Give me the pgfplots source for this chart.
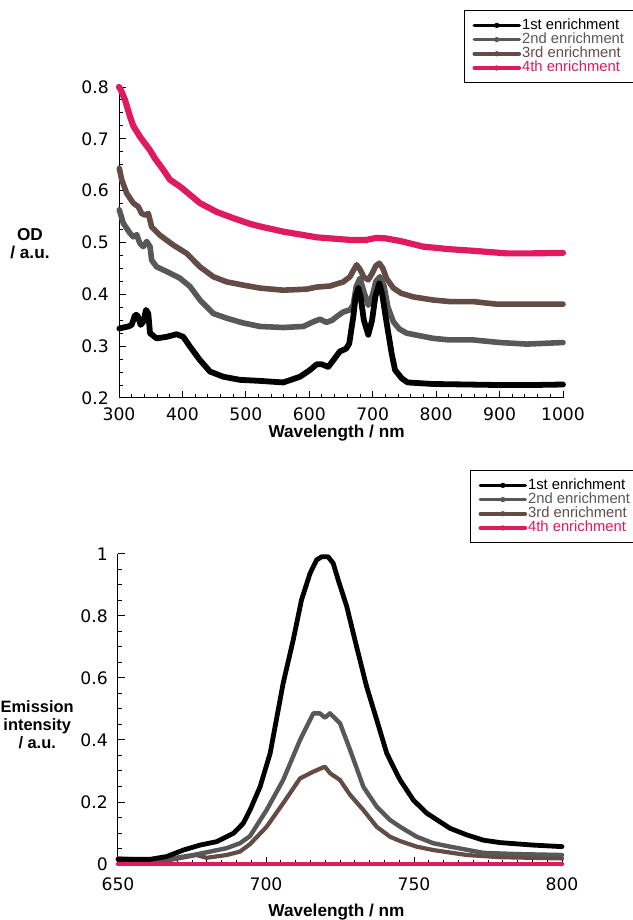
\documentclass[border=0pt]{standalone}
\usepackage{pgfplots}
\pgfplotsset{compat=1.18}
\usepackage{fontspec}
\setmainfont{Liberation Sans}
\newfontfamily\tickfont{DejaVu Sans}
\definecolor{cA}{RGB}{0,0,0}
\definecolor{cB}{RGB}{88,88,88}
\definecolor{cC}{RGB}{100,76,70}
\definecolor{cD}{RGB}{224,26,94}
\tikzset{lblfont/.style={font=\bfseries\fontsize{8.6}{9}\selectfont, align=center}}
\pgfplotsset{
  common/.style={
    scale only axis,
    axis x line*=bottom, axis y line*=left,
    axis line style={line width=0.5pt, black},
    tick align=inside,
    major tick length=3.5pt, minor tick length=2pt,
    every tick/.style={line width=0.5pt, black},
    tick label style={font=\tickfont\fontsize{8.6}{10}\selectfont},
    /pgf/number format/assume math mode=true,
    /pgf/number format/set thousands separator={},
    clip=false,
    every axis plot/.append style={line join=round, line cap=round},
    legend cell align=left,
    legend style={draw=black, line width=0.5pt, font=\fontsize{7.4}{8}\selectfont,
      inner xsep=4pt, inner ysep=3.9pt, row sep=0pt,
      nodes={inner sep=0.5pt, text height=5pt, text depth=1.1pt}, anchor=north west},
    legend image code/.code={\draw[#1, line width=1.8pt] (0pt,0pt) -- (22.5pt,0pt);
      \fill[#1] (11.25pt,0pt) circle (1.05pt);},
  },
}
\begin{document}
\begin{tikzpicture}
\path[use as bounding box] (0,0) rectangle (316pt,460pt);
% ---------------- top panel ----------------
\begin{axis}[common, at={(59.5pt,261pt)}, anchor=south west,
  width=222pt, height=155.5pt,
  xmin=300, xmax=1000, ymin=0.2, ymax=0.8,
  xtick={300,400,500,600,700,800,900,1000},
  ytick={0.2,0.3,0.4,0.5,0.6,0.7,0.8},
  minor x tick num=4, minor y tick num=3,
  yticklabel style={/pgf/number format/fixed, /pgf/number format/fixed zerofill, /pgf/number format/precision=1, xshift=-1.6pt},
  xticklabel style={yshift=-1.3pt},
  legend style={at={(0.777,1.2476)}},
]
\addlegendimage{cA}\addlegendentry{\textcolor{cA}{1st enrichment}}
\addlegendimage{cB}\addlegendentry{\textcolor{cB}{2nd enrichment}}
\addlegendimage{cC}\addlegendentry{\textcolor{cC}{3rd enrichment}}
\addlegendimage{cD}\addlegendentry{\textcolor{cD}{4th enrichment}}
\addplot[cC, line width=2.8pt, forget plot] coordinates {
(300.5,0.643)(304.3,0.621)(312.1,0.595)(322.5,0.576)(330.4,0.569)(335.7,0.556)(341,0.553)(346.2,0.556)(351.5,0.530)(364.6,0.514)(385.6,0.495)(406.7,0.479)(427.7,0.453)(448.7,0.434)(469.8,0.424)(495,0.418)(522.3,0.412)(559,0.408)(595.9,0.410)(611.7,0.414)(632.7,0.416)(653.6,0.424)(664.2,0.434)(669,0.445)(674.7,0.457)(680,0.448)(686,0.433)(693,0.428)(699,0.440)(705,0.455)(710.4,0.460)(716,0.450)(722,0.430)(732.6,0.412)(745,0.402)(764,0.395)(795.5,0.389)(821.8,0.386)(858.6,0.386)(895.5,0.381)(1000,0.381)};
\addplot[cB, line width=2.8pt, forget plot] coordinates {
(300.5,0.563)(306.8,0.537)(317.3,0.518)(322.5,0.511)(327.9,0.515)(333.1,0.498)(338.3,0.492)(343.7,0.502)(348.9,0.492)(351.5,0.466)(359.4,0.453)(375.2,0.444)(396.2,0.431)(412,0.415)(427.7,0.389)(448.7,0.363)(469.8,0.354)(495,0.345)(522.3,0.338)(559,0.336)(590.6,0.338)(606.3,0.347)(616.9,0.352)(627,0.346)(636,0.350)(643.2,0.357)(653.6,0.366)(664.2,0.370)(669.4,0.380)(674,0.415)(680,0.431)(686,0.405)(693,0.379)(700,0.400)(705,0.425)(711.5,0.434)(718,0.415)(724,0.375)(732.6,0.347)(742,0.333)(753.6,0.325)(795.5,0.315)(821.8,0.312)(858.6,0.312)(900.6,0.307)(942.8,0.304)(1000,0.307)};
\addplot[cA, line width=2.9pt, forget plot] coordinates {
(300.5,0.334)(306.8,0.336)(314.7,0.338)(320,0.341)(325.2,0.360)(328.9,0.360)(334.2,0.341)(338.3,0.347)(342.6,0.370)(346.2,0.363)(348.9,0.325)(359.4,0.315)(375.2,0.318)(390.9,0.323)(401.4,0.318)(412,0.299)(427.7,0.273)(443.5,0.251)(464.5,0.241)(490.8,0.235)(522.3,0.233)(559,0.230)(585.4,0.241)(601.1,0.254)(611.7,0.265)(619.6,0.265)(630,0.260)(637.9,0.273)(648.4,0.290)(658,0.295)(663,0.305)(669.4,0.357)(673,0.395)(677.3,0.412)(681,0.395)(686,0.350)(693,0.322)(699,0.350)(704,0.395)(710.4,0.421)(715,0.400)(720,0.360)(724.6,0.325)(730,0.285)(735.2,0.254)(745.7,0.238)(755,0.230)(795.5,0.227)(850,0.226)(900,0.225)(950,0.225)(1000,0.226)};
\addplot[cD, line width=3.1pt, forget plot] coordinates {
(300,0.800)(302.7,0.795)(309.5,0.775)(317.3,0.743)(322.5,0.725)(333.1,0.704)(341,0.691)(348.9,0.678)(356.8,0.662)(369.9,0.640)(380.4,0.621)(396.2,0.608)(412,0.592)(427.7,0.576)(454,0.559)(480.2,0.547)(506.5,0.536)(522.3,0.531)(559,0.521)(611.7,0.510)(664,0.505)(690,0.505)(706.3,0.509)(720,0.508)(743,0.503)(779.8,0.492)(821.8,0.487)(858.6,0.484)(911.3,0.479)(950,0.479)(1000,0.480)};
\node[lblfont] at (rel axis cs:-0.2005,0.495) {OD\\/ a.u.};
\node[lblfont] at (rel axis cs:0.49,-0.1125) {Wavelength / nm};
\end{axis}
% ---------------- bottom panel ----------------
\begin{axis}[common, at={(59pt,28pt)}, anchor=south west,
  width=222pt, height=155pt,
  xmin=650, xmax=800, ymin=0, ymax=1,
  xtick={650,700,750,800},
  ytick={0,0.2,0.4,0.6,0.8,1},
  minor x tick num=9, minor y tick num=3,
  xticklabel style={yshift=-3.4pt}, yticklabel style={xshift=-1.6pt},
  legend style={at={(0.7928,1.271)}},
]
\addlegendimage{cA}\addlegendentry{\textcolor{cA}{1st enrichment}}
\addlegendimage{cB}\addlegendentry{\textcolor{cB}{2nd enrichment}}
\addlegendimage{cC}\addlegendentry{\textcolor{cC}{3rd enrichment}}
\addlegendimage{cD}\addlegendentry{\textcolor{cD}{4th enrichment}}
\addplot[cC, line width=2.1pt, forget plot] coordinates {
(650,0.018)(666.4,0.011)(676.5,0.029)(679.9,0.020)(686.7,0.029)(691.2,0.040)(694.6,0.064)(700.2,0.120)(705.8,0.196)(711.5,0.276)(716,0.298)(719.9,0.314)(721.6,0.293)(725,0.271)(728.4,0.223)(732.9,0.174)(737.4,0.120)(741.9,0.088)(745.3,0.074)(750.9,0.056)(756.5,0.045)(767.8,0.029)(779.1,0.022)(800,0.018)};
\addplot[cB, line width=2.2pt, forget plot] coordinates {
(650,0.015)(666.4,0.015)(675.4,0.029)(681.1,0.040)(686.7,0.051)(691.2,0.067)(694.6,0.090)(700.2,0.174)(705.8,0.271)(711.5,0.400)(716,0.486)(718.2,0.486)(719.9,0.472)(721.6,0.486)(725,0.454)(728.4,0.368)(732.9,0.249)(737.4,0.185)(741.9,0.142)(745.3,0.120)(750.9,0.088)(756.5,0.067)(762.2,0.056)(773.4,0.036)(784.7,0.032)(800,0.029)};
\addplot[cA, line width=2.4pt, forget plot] coordinates {
(650,0.015)(660.8,0.015)(666.4,0.024)(672.1,0.045)(677.7,0.061)(683.3,0.072)(689,0.099)(692.3,0.131)(694.6,0.174)(698,0.249)(701.4,0.357)(705.8,0.583)(709.2,0.723)(712,0.852)(714.9,0.938)(717.1,0.981)(718.8,0.991)(721,0.991)(722.7,0.970)(724.4,0.916)(727.3,0.830)(730.6,0.701)(734,0.572)(737.4,0.465)(740.8,0.357)(744.1,0.293)(745.3,0.271)(749.8,0.206)(754.3,0.164)(762.2,0.115)(767.8,0.094)(773.4,0.077)(779.1,0.069)(790.3,0.061)(800,0.056)};
\addplot[cD, line width=2.2pt, forget plot] coordinates {(650,0)(700,0)(750,0)(800,0)};
\node[font=\bfseries\fontsize{8.2}{9}\selectfont, align=center, inner sep=0pt, anchor=east] at (rel axis cs:-0.099,0.448) {Emission\\intensity\\/ a.u.};
\node[lblfont] at (rel axis cs:0.492,-0.155) {Wavelength / nm};
\end{axis}
\end{tikzpicture}
\end{document}
